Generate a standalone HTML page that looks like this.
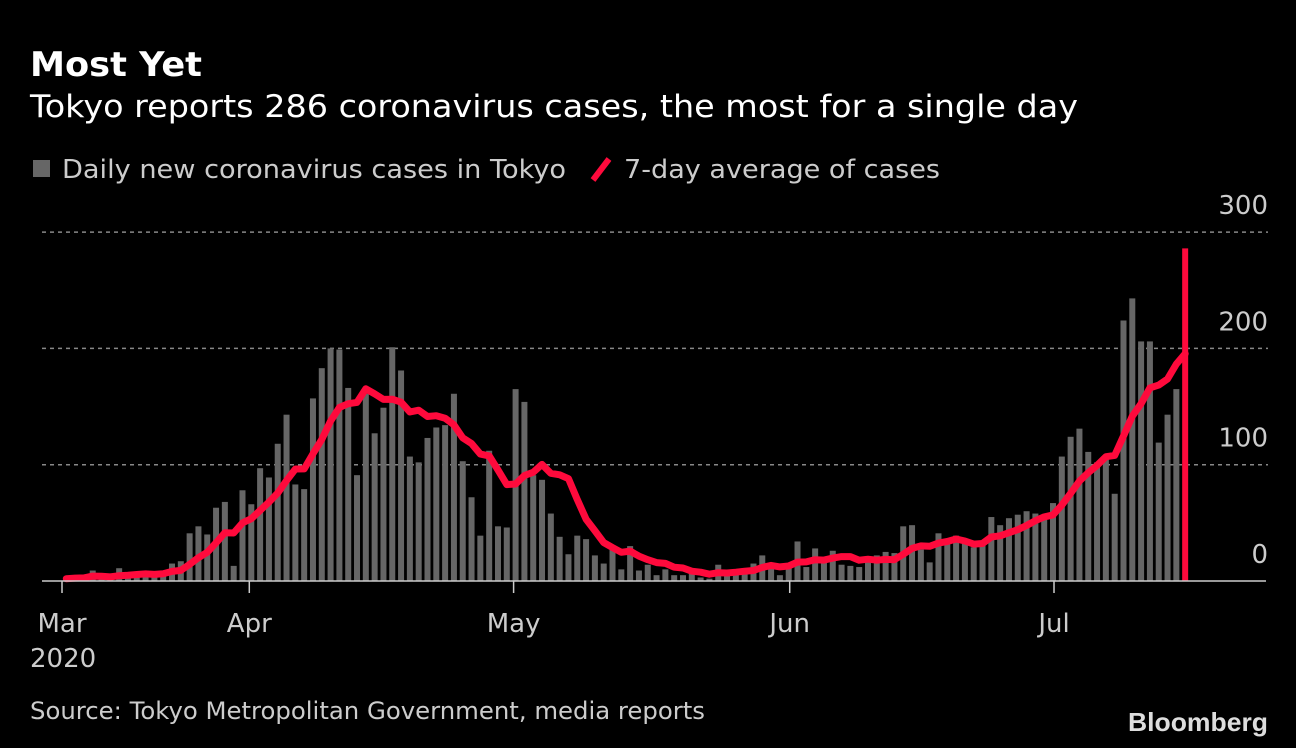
<!DOCTYPE html>
<html><head><meta charset="utf-8">
<style>
html,body{margin:0;padding:0;background:#000;}
svg{display:block;font-family:"DejaVu Sans","Liberation Sans",sans-serif;}
</style></head>
<body>
<svg id="chart" width="1296" height="748" viewBox="0 0 1296 748" xmlns="http://www.w3.org/2000/svg">
<rect width="1296" height="748" fill="#000"/>
<text x="30" y="76" font-size="34" font-weight="bold" fill="#fff" textLength="172" lengthAdjust="spacingAndGlyphs">Most Yet</text>
<text x="30" y="117" font-size="31" fill="#fff" textLength="1048" lengthAdjust="spacingAndGlyphs">Tokyo reports 286 coronavirus cases, the most for a single day</text>
<g>
<rect x="33" y="160" width="17" height="17" fill="#666"/>
<text x="62" y="178" font-size="26" fill="#ccc" textLength="504" lengthAdjust="spacingAndGlyphs">Daily new coronavirus cases in Tokyo</text>
<line x1="593" y1="180" x2="609" y2="159" stroke="#ff0a3c" stroke-width="6"/>
<text x="624" y="178" font-size="26" fill="#ccc" textLength="316" lengthAdjust="spacingAndGlyphs">7-day average of cases</text>
</g>
<g id="grid"></g>
<g id="bars"></g>
<g id="line"></g>
<g id="axis"></g>
<text x="30" y="719" font-size="24" fill="#ccc" textLength="675" lengthAdjust="spacingAndGlyphs">Source: Tokyo Metropolitan Government, media reports</text>
<text x="1128" y="731" font-size="26" font-weight="bold" fill="#ddd" textLength="140" lengthAdjust="spacingAndGlyphs" font-family="Liberation Sans, sans-serif">Bloomberg</text>
</svg>
<script>
// Daily cases starting Mar 11, 2020 through Jul 16, 2020
const marCases = [2,3,3,9,3,1,11,5,7,7,6,7,15,17,41,47,40,63,68,13,78];
const aprCases = [66,97,89,118,143,83,79,157,183,200,199,166,91,161,127,149,201,181,107,102,123,132,134,161,103,72,39,112,47,46];
const mayCases = [165,154,91,87,58,38,23,39,36,22,15,28,10,30,9,14,5,10,5,5,11,3,2,14,8,10,11,15,22,14,5];
const junCases = [13,34,12,28,20,26,14,13,12,18,22,25,24,47,48,27,16,41,35,39,35,29,31,55,48,54,57,60,58,54];
const julCases = [67,107,124,131,111,102,106,75,224,243,206,206,119,143,165,286];
const yTicks = [0,100,200,300];
const xTickLabels = ["Mar","Apr","May","Jun","Jul"];
const xTickIndex = [0,21,51,82,112];

const daily = marCases.concat(aprCases, mayCases, junCases, julCases);
const avg = daily.map((v,i)=>{const s=daily.slice(Math.max(0,i-6),i+1);return s.reduce((a,b)=>a+b,0)/s.length;});
const NS="http://www.w3.org/2000/svg";
const xL = i => 248.3 + (i-21)*8.81;
const y = v => 581 - v*1.163;
function mk(tag, attrs, parent){const e=document.createElementNS(NS,tag);for(const k in attrs)e.setAttribute(k,attrs[k]);parent.appendChild(e);return e;}

const grid=document.getElementById('grid');
yTicks.forEach(t=>{
  if(t>0){
    const l=mk('line',{x1:42,x2:1268,y1:y(t),y2:y(t),stroke:'#888','stroke-width':1.5,'stroke-dasharray':'4 4'},grid);
    
    
  }
  const tx=mk('text',{x:1268,y:y(t)-18,'text-anchor':'end','font-size':26,fill:'#ccc'},grid);
  tx.textContent=t;
  
  
});

const bars=document.getElementById('bars');
const last=daily.length-1;
daily.forEach((v,i)=>{
  const isLast=i===last;
  const r=mk('rect',{x:xL(i),y:y(v),width:6,height:581-y(v),fill:isLast?'#ff0a3c':'#666'},bars);
  
  
});

const lineG=document.getElementById('line');
const pts=avg.map((v,i)=>(xL(i)+3).toFixed(1)+','+y(v).toFixed(1)).join(' ');
const pl=mk('polyline',{points:pts,fill:'none',stroke:'#ff0a3c','stroke-width':7,'stroke-linejoin':'round','stroke-linecap':'round'},lineG);



const axis=document.getElementById('axis');
const base=mk('line',{x1:42,x2:1266,y1:581,y2:581,stroke:'#ccc','stroke-width':1.5},axis);


xTickLabels.forEach((lab,k)=>{
  const x=k===0?62:xL(xTickIndex[k])+(k>=3?4:1);
  const tk=mk('line',{x1:x,x2:x,y1:581,y2:593,stroke:'#ccc','stroke-width':1.5},axis);
  
  
  const t=mk('text',{x:x,y:632,'text-anchor':'middle','font-size':26,fill:'#ccc'},axis);
  t.textContent=lab;
  
  
});
const yr=mk('text',{x:30,y:667,'font-size':26,fill:'#ccc'},axis);
yr.textContent='2020';


</script>
</body></html>
